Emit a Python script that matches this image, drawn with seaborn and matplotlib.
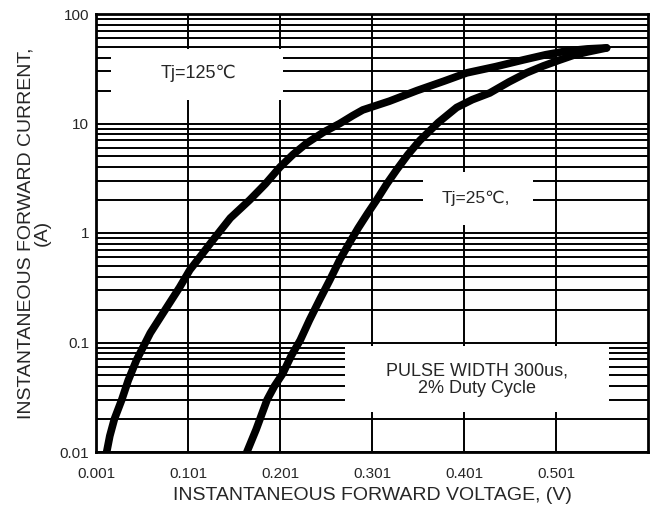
import numpy as np
import pandas as pd
import matplotlib
matplotlib.use("Agg")
import matplotlib.pyplot as plt
import seaborn as sns
from matplotlib.patches import Rectangle

# Data
v_125 = [0.0126, 0.016, 0.021, 0.029, 0.036, 0.045, 0.052, 0.060, 0.070, 0.081, 0.092, 0.103,
         0.115, 0.128, 0.147, 0.168, 0.185, 0.201, 0.215, 0.230, 0.248, 0.266, 0.280, 0.291,
         0.320, 0.350, 0.380, 0.404, 0.435, 0.465, 0.490, 0.513, 0.535, 0.556]
i_125 = [0.010, 0.014, 0.020, 0.030, 0.045, 0.069, 0.090, 0.122, 0.165, 0.23, 0.32, 0.46,
         0.62, 0.86, 1.37, 2.0, 2.8, 4.0, 5.2, 6.6, 8.3, 10.0, 11.8, 13.3,
         16.0, 20.0, 24.5, 29.0, 33.0, 38.0, 42.5, 46.0, 48.0, 49.0]
v_25 = [0.165, 0.175, 0.187, 0.195, 0.204, 0.213, 0.223, 0.233, 0.244, 0.255, 0.266, 0.276,
        0.286, 0.296, 0.306, 0.317, 0.328, 0.340, 0.353, 0.373, 0.393, 0.410, 0.429, 0.450,
        0.469, 0.487, 0.505, 0.520, 0.535, 0.556]
i_25 = [0.010, 0.016, 0.030, 0.040, 0.052, 0.075, 0.105, 0.16, 0.245, 0.37, 0.57, 0.80,
        1.11, 1.5, 2.0, 2.8, 3.8, 5.2, 7.0, 10.2, 14.0, 16.5, 19.0, 24.0,
        29.0, 33.5, 38.0, 42.0, 45.0, 49.0]
x_ticks = [0.001, 0.101, 0.201, 0.301, 0.401, 0.501]
x_tick_labels = ["0.001", "0.101", "0.201", "0.301", "0.401", "0.501"]
y_ticks = [0.01, 0.1, 1, 10, 100]
y_tick_labels = ["0.01", "0.1", "1", "10", "100"]

sns.set_style("white")
plt.rcParams['font.family'] = ['Liberation Sans', 'DejaVu Sans']

df = pd.concat([
    pd.DataFrame({"V": v_125, "I": i_125, "curve": "125"}),
    pd.DataFrame({"V": v_25, "I": i_25, "curve": "25"}),
])

fig = plt.figure(figsize=(6.56, 5.12), dpi=100)
ax = fig.add_axes([96/656, 1-452/512, 552/656, 438/512])
ax.set_yscale("log")
ax.set_xlim(0.001, 0.601)
ax.set_ylim(0.01, 100)

# grid: horizontal at every log minor/major, vertical at majors
for dec in [0.01, 0.1, 1, 10]:
    for m in range(1, 10):
        ax.axhline(dec*m, color="black", lw=1.4, zorder=1)
for xv in x_ticks[1:]:
    ax.axvline(xv, color="black", lw=1.4, zorder=1)

# white annotation boxes
boxes = [(0.027, 0.804, 0.312, 0.116), (0.592, 0.518, 0.200, 0.121), (0.451, 0.091, 0.478, 0.151)]
for bx, by, bw, bh in boxes:
    ax.add_patch(Rectangle((bx, by), bw, bh, transform=ax.transAxes, facecolor="white",
                           edgecolor="none", zorder=2))

sns.lineplot(data=df, x="V", y="I", units="curve", estimator=None, sort=False,
             color="black", lw=5.5, ax=ax, zorder=3, legend=False)
for ln in ax.lines[-2:]:
    ln.set_solid_capstyle("round")
    ln.set_solid_joinstyle("round")

ax.text(0.185, 0.865, "Tj=125\u2103", transform=ax.transAxes, ha="center", va="center",
        fontsize=13, zorder=4)
ax.text(0.688, 0.580, "Tj=25\u2103,", transform=ax.transAxes, ha="center", va="center",
        fontsize=12.5, zorder=4)
ax.text(0.690, 0.164, "PULSE WIDTH 300us,\n2% Duty Cycle", transform=ax.transAxes,
        ha="center", va="center", fontsize=13, zorder=4, linespacing=1.05)

ax.set_xticks(x_ticks)
ax.set_xticklabels(x_tick_labels, fontsize=11)
ax.set_yticks(y_ticks)
ax.set_yticklabels(y_tick_labels, fontsize=11)
ax.minorticks_off()
ax.tick_params(axis="x", length=0, pad=11)
ax.tick_params(axis="y", length=0, pad=5)
ax.set_xlabel("INSTANTANEOUS FORWARD VOLTAGE, (V)", fontsize=14, labelpad=4)
ax.set_ylabel("INSTANTANEOUS FORWARD CURRENT,\n(A)", fontsize=14, labelpad=6, linespacing=1.0)
for s in ax.spines.values():
    s.set_visible(True)
    s.set_color("black")
    s.set_linewidth(2)
    s.set_zorder(5)

fig.savefig("out.png", dpi=100, facecolor="white")
